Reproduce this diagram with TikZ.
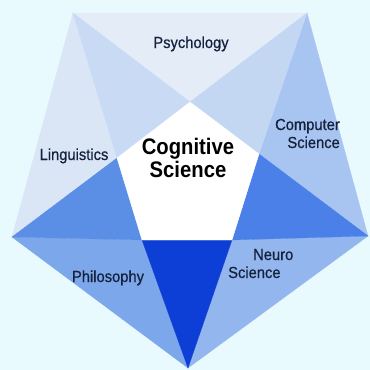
\documentclass[tikz,border=0pt]{standalone}
\usepackage{fontspec}
\newfontfamily\labfont[FakeStretch=0.92,FakeBold=0.6]{Liberation Sans}
\newfontfamily\cogfont[FakeStretch=0.9]{Liberation Sans}
\definecolor{bg}{HTML}{E8FAFD}
\definecolor{cpsy}{HTML}{E3ECF7}
\definecolor{ctl}{HTML}{C8DAF4}
\definecolor{ctr}{HTML}{C3D7F3}
\definecolor{cling}{HTML}{DAE6F6}
\definecolor{ccomp}{HTML}{A8C4F0}
\definecolor{cl}{HTML}{5B8FE6}
\definecolor{cr}{HTML}{4A80E8}
\definecolor{cphil}{HTML}{7DA7EB}
\definecolor{cneuro}{HTML}{93B6EE}
\definecolor{cb}{HTML}{0D3FD6}
\definecolor{txt}{HTML}{15223D}
\tikzset{
  lab/.style={inner sep=0pt, text=txt, font=\labfont\fontsize{16}{18}\selectfont},
  cog/.style={inner sep=0pt, text=black, font=\cogfont\bfseries\fontsize{22.5}{23}\selectfont, align=center},
  facet/.style={line width=0.3pt}
}
\begin{document}
\begin{tikzpicture}[x=1pt,y=-1pt]
\fill[bg] (0,0) rectangle (370,370);
\useasboundingbox (0,0) rectangle (370,370);
% outer vertices
\coordinate (TL) at (73,13);
\coordinate (TR) at (307,13);
\coordinate (R) at (368,236);
\coordinate (B) at (188,368);
\coordinate (L) at (12,237);
% inner vertices
\coordinate (It) at (190,102);
\coordinate (Iru) at (259,154);
\coordinate (Ilr) at (232,240);
\coordinate (Ill) at (142,240);
\coordinate (Ilu) at (117,158);
% edge triangles
\filldraw[facet, fill=cpsy, draw=cpsy] (TL) -- (TR) -- (It) -- cycle;
\filldraw[facet, fill=cling, draw=cling] (L) -- (TL) -- (Ilu) -- cycle;
\filldraw[facet, fill=ccomp, draw=ccomp] (TR) -- (R) -- (Iru) -- cycle;
\filldraw[facet, fill=cphil, draw=cphil] (L) -- (B) -- (Ill) -- cycle;
\filldraw[facet, fill=cneuro, draw=cneuro] (R) -- (B) -- (Ilr) -- cycle;
% star points
\filldraw[facet, fill=ctl, draw=ctl] (TL) -- (It) -- (Ilu) -- cycle;
\filldraw[facet, fill=ctr, draw=ctr] (TR) -- (Iru) -- (It) -- cycle;
\filldraw[facet, fill=cl, draw=cl] (L) -- (Ilu) -- (Ill) -- cycle;
\filldraw[facet, fill=cr, draw=cr] (R) -- (Ilr) -- (Iru) -- cycle;
\filldraw[facet, fill=cb, draw=cb] (B) -- (Ill) -- (Ilr) -- cycle;
% inner pentagon
\filldraw[facet, fill=white, draw=white] (It) -- (Iru) -- (Ilr) -- (Ill) -- (Ilu) -- cycle;
% labels
\node[lab, anchor=base] (psy) at (191,48) {Psychology};
\node[lab, anchor=base] (ling) at (74,160) {Linguistics};
\node[lab, anchor=base east, align=right] (comp) at (340,148) {Computer\\Science};
\node[lab, anchor=base] (phil) at (108,282) {Philosophy};
\node[lab, anchor=base west, align=left] (neuro) at (228,278) {\hspace*{25pt}Neuro\\Science};
\node[cog, anchor=base] (cog) at (188,177) {Cognitive\\Science};
\end{tikzpicture}
\end{document}
